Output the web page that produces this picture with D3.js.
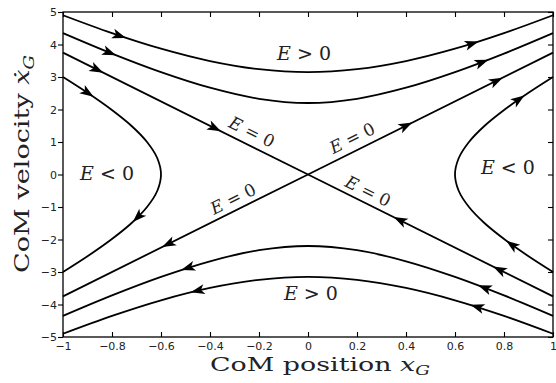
<html>
<meta charset="utf-8">
<script src="https://d3js.org/d3.v7.min.js"></script>
<style>
body { margin: 0; background: #fff; }
</style>
<body>
<div id="chart"></div>
<script>
var WIDTH = 556, HEIGHT = 383;
var MARGIN = {top: 12, right: 3, bottom: 46, left: 63};

// ---- data ----
var xGrid = [-1, -0.8, -0.6, -0.4, -0.2, 0, 0.2, 0.4, 0.6, 0.8, 1];
var upperOuter = [4.90, 4.35, 3.87, 3.49, 3.24, 3.15, 3.24, 3.49, 3.87, 4.35, 4.90];
var upperInner = [4.35, 3.72, 3.15, 2.67, 2.33, 2.20, 2.33, 2.67, 3.15, 3.72, 4.35];
var lowerInner = [-4.35, -3.72, -3.15, -2.67, -2.33, -2.20, -2.33, -2.67, -3.15, -3.72, -4.35];
var lowerOuter = [-4.90, -4.35, -3.87, -3.49, -3.24, -3.15, -3.24, -3.49, -3.87, -4.35, -4.90];

// E < 0 branches, listed by velocity
var hypY = [3, 2.5, 2, 1.5, 1, 0.5, 0, -0.5, -1, -1.5, -2, -2.5, -3];
var leftHypX = [-1.0, -0.897, -0.803, -0.721, -0.657, -0.615, -0.6, -0.615, -0.657, -0.721, -0.803, -0.897, -1.0];
var rightHypX = [1.0, 0.897, 0.803, 0.721, 0.657, 0.615, 0.6, 0.615, 0.657, 0.721, 0.803, 0.897, 1.0];

// E = 0 separatrices: velocity at x = -1 and x = 1
var sepA = [3.75, -3.75];
var sepB = [-3.75, 3.75];

// arrow heads: [curve, x, y]
var arrowMarks = [
  ["upperOuter", -0.77, 4.28], ["upperOuter", 0.67, 4.03],
  ["upperInner", -0.81, 3.75], ["upperInner", 0.71, 3.46],
  ["lowerInner", 0.72, -3.49], ["lowerInner", -0.49, -2.87],
  ["lowerOuter", 0.69, -4.08], ["lowerOuter", -0.45, -3.58],
  ["sepA1", -0.86, 3.23], ["sepA1", -0.38, 1.43],
  ["sepA2", 0.375, -1.41], ["sepA2", 0.78, -2.93],
  ["sepB1", -0.57, -2.14],
  ["sepB2", 0.40, 1.50], ["sepB2", 0.77, 2.89],
  ["leftHyp", -0.90, 2.5], ["leftHyp", -0.69, -1.34],
  ["rightHyp", 0.83, -2.17], ["rightHyp", 0.86, 2.3]
];

// region labels: [symbol, relation, x, y, tilt]
var regionLabels = [
  ["E", " > 0", -0.016, 3.74, 0],
  ["E", " > 0", 0.012, -3.66, 0],
  ["E", " < 0", -0.82, 0.05, 0],
  ["E", " < 0", 0.816, 0.23, 0],
  ["E", " = 0", -0.229, 1.31, 1],
  ["E", " = 0", 0.18, 1.12, -1],
  ["E", " = 0", -0.306, -0.75, -1],
  ["E", " = 0", 0.245, -0.51, 1]
];

var xTicks = [-1, -0.8, -0.6, -0.4, -0.2, 0, 0.2, 0.4, 0.6, 0.8, 1];
var xTickLabels = ["\u22121", "\u22120.8", "\u22120.6", "\u22120.4", "\u22120.2", "0", "0.2", "0.4", "0.6", "0.8", "1"];
var yTicks = [5, 4, 3, 2, 1, 0, -1, -2, -3, -4, -5];
var yTickLabels = ["5", "4", "3", "2", "1", "0", "\u22121", "\u22122", "\u22123", "\u22124", "\u22125"];

// ---- chart ----
var svg = d3.select("#chart").append("svg")
    .attr("width", WIDTH).attr("height", HEIGHT)
    .style("background", "#fff");

var x = d3.scaleLinear().domain([-1, 1]).range([MARGIN.left, WIDTH - MARGIN.right]);
var y = d3.scaleLinear().domain([-5, 5]).range([HEIGHT - MARGIN.bottom, MARGIN.top]);

// build the trajectories in the direction of the flow
var curves = {
  upperOuter: xGrid.map(function (d, i) { return [d, upperOuter[i]]; }),
  upperInner: xGrid.map(function (d, i) { return [d, upperInner[i]]; }),
  lowerInner: xGrid.map(function (d, i) { return [d, lowerInner[i]]; }).reverse(),
  lowerOuter: xGrid.map(function (d, i) { return [d, lowerOuter[i]]; }).reverse(),
  leftHyp: hypY.map(function (d, i) { return [leftHypX[i], d]; }),
  rightHyp: hypY.map(function (d, i) { return [rightHypX[i], d]; }).reverse(),
  sepA1: [[-1, sepA[0]], [0, 0]],
  sepA2: [[1, sepA[1]], [0, 0]],
  sepB1: [[0, 0], [-1, sepB[0]]],
  sepB2: [[0, 0], [1, sepB[1]]]
};

var line = d3.line()
    .x(function (d) { return x(d[0]); })
    .y(function (d) { return y(d[1]); })
    .curve(d3.curveCatmullRom.alpha(0.5));

var plot = svg.append("g");
var paths = {};
Object.keys(curves).forEach(function (k) {
  paths[k] = plot.append("path")
      .attr("d", line(curves[k]))
      .attr("fill", "none")
      .attr("stroke", "#000")
      .attr("stroke-width", 1.8);
});

// arrow heads placed on the nearest point of their curve, along the tangent
arrowMarks.forEach(function (a) {
  var node = paths[a[0]].node();
  var len = node.getTotalLength();
  var px = x(a[1]), py = y(a[2]);
  var best = 0, bestD = Infinity;
  for (var l = 0; l <= len; l += 0.5) {
    var p = node.getPointAtLength(l);
    var dd = (p.x - px) * (p.x - px) + (p.y - py) * (p.y - py);
    if (dd < bestD) { bestD = dd; best = l; }
  }
  var p0 = node.getPointAtLength(Math.max(0, best - 2));
  var p1 = node.getPointAtLength(Math.min(len, best + 2));
  var pc = node.getPointAtLength(best);
  var ang = Math.atan2(p1.y - p0.y, p1.x - p0.x) * 180 / Math.PI;
  plot.append("path")
      .attr("d", "M7,0 L-7,-5 L-3.5,0 L-7,5 Z")
      .attr("fill", "#000")
      .attr("transform", "translate(" + pc.x + "," + pc.y + ") rotate(" + ang + ")");
});

// frame
svg.append("rect")
    .attr("x", x(-1)).attr("y", y(5))
    .attr("width", x(1) - x(-1)).attr("height", y(-5) - y(5))
    .attr("fill", "none").attr("stroke", "#000").attr("stroke-width", 1.3);

// axes
svg.append("g")
    .attr("transform", "translate(0," + y(-5) + ")")
    .call(d3.axisBottom(x).tickValues(xTicks)
      .tickFormat(function (d, i) { return xTickLabels[i]; })
      .tickSize(-5).tickPadding(5));
svg.append("g")
    .attr("transform", "translate(0," + y(5) + ")")
    .call(d3.axisTop(x).tickValues(xTicks).tickFormat("").tickSize(-5));
svg.append("g")
    .attr("transform", "translate(" + x(-1) + ",0)")
    .call(d3.axisLeft(y).tickValues(yTicks)
      .tickFormat(function (d, i) { return yTickLabels[i]; })
      .tickSize(5).tickPadding(1));
svg.append("g")
    .attr("transform", "translate(" + x(1) + ",0)")
    .call(d3.axisRight(y).tickValues(yTicks).tickFormat("").tickSize(-5));

svg.selectAll(".domain").remove();
svg.selectAll(".tick line").attr("stroke", "#000").attr("stroke-width", 1.1);
svg.selectAll(".tick text")
    .style("font-family", "DejaVu Sans")
    .style("font-size", "11px")
    .attr("fill", "#222");

// region labels
var slope = Math.atan((y(0) - y(sepA[0])) / (x(0) - x(-1))) * 180 / Math.PI;
regionLabels.forEach(function (r) {
  var t = svg.append("text")
      .attr("text-anchor", "middle")
      .attr("dominant-baseline", "central")
      .attr("transform", "translate(" + x(r[2]) + "," + y(r[3]) + ") rotate(" + (r[4] * slope) + ")")
      .style("font-family", "DejaVu Serif")
      .style("font-size", r[4] === 0 ? "19px" : "17px")
      .attr("fill", "#222");
  t.append("tspan").style("font-style", "italic").text(r[0]);
  t.append("tspan").text(r[1]);
});

// axis titles
var xt = svg.append("text")
    .attr("x", 320).attr("y", 371)
    .attr("text-anchor", "middle")
    .attr("textLength", 220).attr("lengthAdjust", "spacingAndGlyphs")
    .style("font-family", "DejaVu Serif")
    .style("font-size", "19px")
    .attr("fill", "#222");
xt.append("tspan").text("CoM position ");
xt.append("tspan").style("font-style", "italic").text("x");
xt.append("tspan").attr("dy", 4).style("font-style", "italic").style("font-size", "13px").text("G");

var yt = svg.append("text")
    .attr("transform", "translate(29,164) rotate(-90)")
    .attr("text-anchor", "middle")
    .attr("textLength", 218).attr("lengthAdjust", "spacingAndGlyphs")
    .style("font-family", "DejaVu Serif")
    .style("font-size", "21px")
    .attr("fill", "#222");
yt.append("tspan").text("CoM velocity ");
yt.append("tspan").style("font-style", "italic").text("x\u0307");
yt.append("tspan").attr("dy", 5).style("font-style", "italic").style("font-size", "14px").text("G");
</script>
</body>
</html>
